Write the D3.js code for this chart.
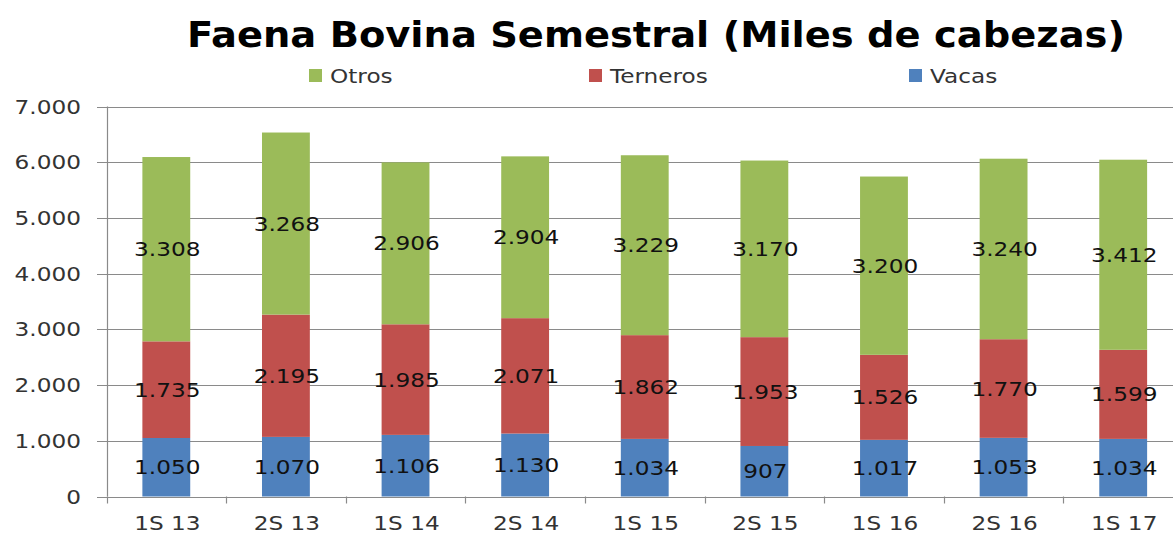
<!DOCTYPE html>
<html><head><meta charset="utf-8">
<script src="https://cdn.jsdelivr.net/npm/d3@7"></script>
<style>
html,body{margin:0;padding:0;background:#fff;}
svg{display:block;}
text{font-family:"DejaVu Sans",sans-serif;}
</style></head>
<body>
<svg id="chart" width="1173" height="535"></svg>
<script>
const categories = ["1S 13","2S 13","1S 14","2S 14","1S 15","2S 15","1S 16","2S 16","1S 17"];
const vacas    = [1050,1070,1106,1130,1034,907,1017,1053,1034];
const terneros = [1735,2195,1985,2071,1862,1953,1526,1770,1599];
const otros    = [3308,3268,2906,2904,3229,3170,3200,3240,3412];
const seriesNames = ["Vacas","Terneros","Otros"];
const legendOrder = ["Otros","Terneros","Vacas"];
const colors = {Vacas:"#4F81BD", Terneros:"#C0504D", Otros:"#9BBB59"};
const yTicks = [0,1000,2000,3000,4000,5000,6000,7000];
const title = "Faena Bovina Semestral (Miles de cabezas)";

const SX = 1.19;   // horizontal stretch of the reference's lettering
const FS = 19.5;

const fmt = v => v >= 1000 ? d3.format(",")(v).replace(/,/g,".") : String(v);

const rows = categories.map((c,i)=>({cat:c, Vacas:vacas[i], Terneros:terneros[i], Otros:otros[i]}));
const stack = d3.stack().keys(seriesNames)(rows);

const svg = d3.select("#chart");
const x = d3.scaleBand().domain(categories).range([106.5, 1183]).paddingInner(0.6).paddingOuter(0.3);
const xb = d3.scaleBand().domain(categories).range([106.5, 1183]);
const y = d3.scaleLinear().domain([0,7000]).range([496.5,106.5]);

function label(g, px, py, anchor, txt, fill){
  return g.append("text")
    .attr("transform",`translate(${px},${py}) scale(${SX},1)`)
    .attr("dy","0.36em").attr("text-anchor",anchor)
    .attr("font-size",FS).attr("fill",fill).text(txt);
}

// gridlines
svg.append("g").selectAll("line").data(yTicks).join("line")
  .attr("x1",97).attr("x2",1173)
  .attr("y1",d=>Math.round(y(d))+0.5).attr("y2",d=>Math.round(y(d))+0.5)
  .attr("stroke","#8a8a8a").attr("stroke-width",1.2);

// y axis line
svg.append("line").attr("x1",107.5).attr("x2",107.5).attr("y1",y(7000)).attr("y2",y(0))
  .attr("stroke","#8a8a8a").attr("stroke-width",1.2);

// category ticks
svg.append("g").selectAll("line").data(categories).join("line")
  .attr("x1",d=>Math.round(xb(d))+0.5).attr("x2",d=>Math.round(xb(d))+0.5)
  .attr("y1",y(0)).attr("y2",y(0)+7)
  .attr("stroke","#8a8a8a").attr("stroke-width",1.2);

// y labels
const gy = svg.append("g");
yTicks.forEach(t=>label(gy, 81, y(t), "end", fmt(t), "#333"));

// x labels
const gx = svg.append("g");
categories.forEach(c=>label(gx, x(c)+x.bandwidth()/2+1, 523, "middle", c, "#333"));

// bars
const layers = svg.append("g").selectAll("g").data(stack).join("g")
  .attr("fill",d=>colors[d.key]);
layers.selectAll("rect").data(d=>d).join("rect")
  .attr("x",d=>x(d.data.cat)).attr("width",x.bandwidth())
  .attr("y",d=>y(d[1])).attr("height",d=>y(d[0])-y(d[1]));

// data labels
const gl = svg.append("g");
stack.forEach(s=>{
  s.forEach(d=>label(gl, x(d.data.cat)+x.bandwidth()/2+1, y((d[0]+d[1])/2), "middle", fmt(d.data[s.key]), "#111"));
});

// title
svg.append("text").attr("x",187).attr("y",47).attr("text-anchor","start")
  .attr("font-family","'Open Sans',sans-serif").attr("font-weight",700).attr("font-size",36)
  .attr("textLength",938).attr("lengthAdjust","spacingAndGlyphs")
  .attr("fill","#000").text(title);

// legend
const legendX = {Otros:309, Terneros:589, Vacas:909};
const lg = svg.append("g");
legendOrder.forEach(k=>{
  lg.append("rect").attr("x",legendX[k]).attr("y",69).attr("width",13).attr("height",13).attr("fill",colors[k]);
  label(lg, legendX[k]+21, 75.5, "start", k, "#333");
});
</script>
</body></html>
